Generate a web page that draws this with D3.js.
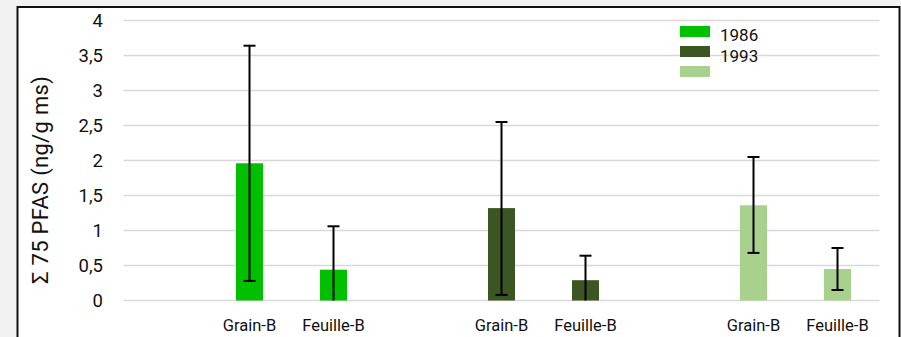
<!DOCTYPE html>
<html><head><meta charset="utf-8">
<script src="https://cdn.jsdelivr.net/npm/d3@7"></script>
<style>html,body{margin:0;padding:0;background:#f2f2f2;}svg{display:block;font-family:Roboto,"DejaVu Sans",sans-serif;}</style>
</head><body>
<svg id="c" width="901" height="337"></svg>
<script>
const groups = ["1986", "1993", ""];
const subCategories = ["Grain-B", "Feuille-B"];
const means = [[1.96, 0.44], [1.32, 0.29], [1.36, 0.45]];
const errLow = [[0.28, 0.0], [0.08, 0.0], [0.68, 0.15]];
const errHigh = [[3.64, 1.06], [2.55, 0.64], [2.05, 0.75]];
const colors = ["#00c000", "#3b5523", "#a9d18e"];
const yTicks = [0, 0.5, 1, 1.5, 2, 2.5, 3, 3.5, 4];
const yTitle = "Σ 75 PFAS (ng/g ms)";

const svg = d3.select("#c");
svg.append("rect").attr("x", 17.5).attr("y", 7).attr("width", 882).attr("height", 340)
  .attr("fill", "#fff").attr("stroke", "#111").attr("stroke-width", 2);

const slots = [];
groups.forEach((g, gi) => {
  slots.push({key: gi + "_gap", label: ""});
  subCategories.forEach((s, si) => slots.push({key: gi + "_" + si, label: s, gi, si}));
});
const x = d3.scaleBand().domain(slots.map(d => d.key)).range([123.5, 879.5]).paddingInner(0).paddingOuter(0);
const y = d3.scaleLinear().domain([0, 4]).range([300.5, 20.5]);
const bw = 27;

svg.append("g").selectAll("line").data(yTicks).join("line")
  .attr("x1", 123.5).attr("x2", 879.5).attr("y1", d => y(d)).attr("y2", d => y(d))
  .attr("stroke", "#d9d9d9").attr("stroke-width", 1.5);

const fmt = d => String(d).replace(".", ",");
svg.append("g").selectAll("text").data(yTicks).join("text")
  .attr("x", 103).attr("y", d => y(d)).attr("dy", "0.36em").attr("text-anchor", "end")
  .attr("font-size", 18.5).attr("fill", "#111").text(fmt);

svg.append("text").attr("transform", "translate(48,180) rotate(-90)").attr("text-anchor", "middle")
  .attr("font-size", 22).attr("fill", "#111").attr("letter-spacing", 0.3).text(yTitle);

const barData = slots.filter(d => d.label !== "").map(d => ({
  key: d.key, label: d.label, v: means[d.gi][d.si], lo: errLow[d.gi][d.si], hi: errHigh[d.gi][d.si], c: colors[d.gi]
}));

const cx = d => x(d.key) + x.bandwidth() / 2;
svg.append("g").selectAll("rect").data(barData).join("rect")
  .attr("x", d => cx(d) - bw / 2).attr("width", bw)
  .attr("y", d => y(d.v)).attr("height", d => y(0) - y(d.v)).attr("fill", d => d.c);

const eb = svg.append("g").attr("stroke", "#000").attr("stroke-width", 2);
barData.forEach(d => {
  eb.append("line").attr("x1", cx(d)).attr("x2", cx(d)).attr("y1", y(d.hi)).attr("y2", y(d.lo));
  eb.append("line").attr("x1", cx(d) - 6).attr("x2", cx(d) + 6).attr("y1", y(d.hi)).attr("y2", y(d.hi));
  if (d.lo > 0) eb.append("line").attr("x1", cx(d) - 6).attr("x2", cx(d) + 6).attr("y1", y(d.lo)).attr("y2", y(d.lo));
});

svg.append("g").selectAll("text").data(barData).join("text")
  .attr("x", d => cx(d)).attr("y", 325).attr("dy", "0.36em").attr("text-anchor", "middle")
  .attr("font-size", 16.5).attr("fill", "#111").text(d => d.label);

const lg = svg.append("g");
groups.forEach((g, i) => {
  lg.append("rect").attr("x", 680).attr("y", 26 + i * 20).attr("width", 30).attr("height", 11).attr("fill", colors[i]);
  if (g) lg.append("text").attr("x", 720).attr("y", 35 + i * 21).attr("dy", "0.36em")
    .attr("font-size", 17).attr("fill", "#111").text(g);
});
</script>
</body></html>
